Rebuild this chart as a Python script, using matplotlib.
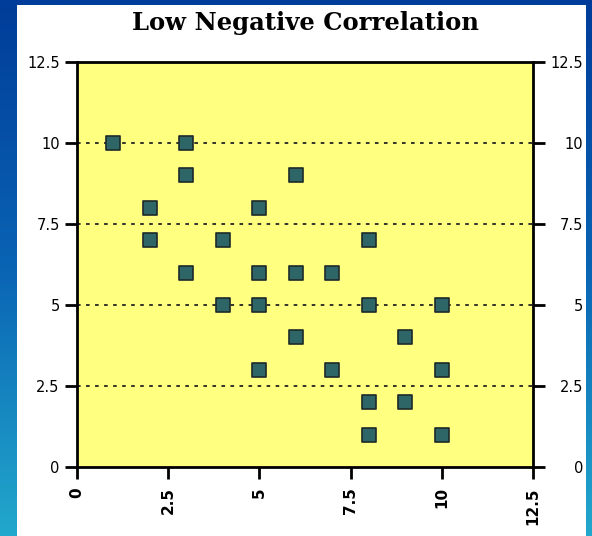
import matplotlib
matplotlib.use("Agg")
import matplotlib.pyplot as plt
import numpy as np
from matplotlib.colors import LinearSegmentedColormap
from matplotlib.patches import Rectangle
import matplotlib.transforms as mtransforms

# data
x_vals = [1, 3, 3, 6, 2, 5, 2, 4, 8, 3, 5, 6, 7, 4, 5, 8, 10, 6, 9, 5, 7, 10, 8, 9, 8, 10]
y_vals = [10, 10, 9, 9, 8, 8, 7, 7, 7, 6, 6, 6, 6, 5, 5, 5, 5, 4, 4, 3, 3, 3, 2, 2, 1, 1]
ticks = [0, 2.5, 5, 7.5, 10, 12.5]
tick_labels = ["0", "2.5", "5", "7.5", "10", "12.5"]
grid_levels = [2.5, 5, 7.5, 10]

fig = plt.figure(figsize=(5.92, 5.36), dpi=100)

# blue gradient backdrop + white panel
bg = fig.add_axes([0, 0, 1, 1], zorder=-10)
cmap = LinearSegmentedColormap.from_list("bg", ["#003c99", "#0a64b4", "#22a8cc"])
bg.imshow(np.linspace(0, 1, 256).reshape(-1, 1), aspect="auto", cmap=cmap,
          extent=[0, 1, 0, 1], origin="upper")
bg.add_patch(Rectangle((17 / 592, 0), (586 - 17) / 592, (536 - 5) / 536,
                       facecolor="white", edgecolor="none"))
bg.set_xlim(0, 1)
bg.set_ylim(0, 1)
bg.axis("off")

ax = fig.add_axes([77 / 592, 69 / 536, 456 / 592, 405 / 536])
ax.set_facecolor("#ffff80")
for y in grid_levels:
    ax.axhline(y, color="#222222", lw=1.3, linestyle=(0, (2, 3)), zorder=1)
ax.scatter(x_vals, y_vals, marker="s", s=95, c="#2e6567",
           edgecolors="#1e2a2a", linewidths=1.2, zorder=3)

ax.set_xlim(0, 12.5)
ax.set_ylim(0, 12.5)
ax.set_xticks(ticks)
ax.set_xticklabels(tick_labels, rotation=90, fontsize=11, fontweight="bold",
                   family="DejaVu Sans")
ax.set_yticks(ticks)
ax.set_yticklabels(tick_labels, fontsize=10.5, family="DejaVu Sans")
ax.tick_params(axis="both", direction="out", length=8.5, width=2, color="black")
ax.tick_params(axis="y", left=True, right=True, labelleft=True, labelright=True,
               pad=4)
ax.tick_params(axis="x", pad=6)
# right labels sit right-aligned near the panel edge
offset = mtransforms.ScaledTranslation(33 / 100, 0, fig.dpi_scale_trans)
for t in ax.yaxis.get_major_ticks():
    t.label2.set_horizontalalignment("right")
    t.label2.set_transform(t.label2.get_transform() + offset)
for s in ax.spines.values():
    s.set_linewidth(2)
    s.set_color("black")

fig.text(305 / 592, 1 - 23 / 536, "Low Negative Correlation", ha="center",
         va="center", fontsize=17.5, fontweight="bold", family="DejaVu Serif")

fig.savefig("out.png", dpi=100)
